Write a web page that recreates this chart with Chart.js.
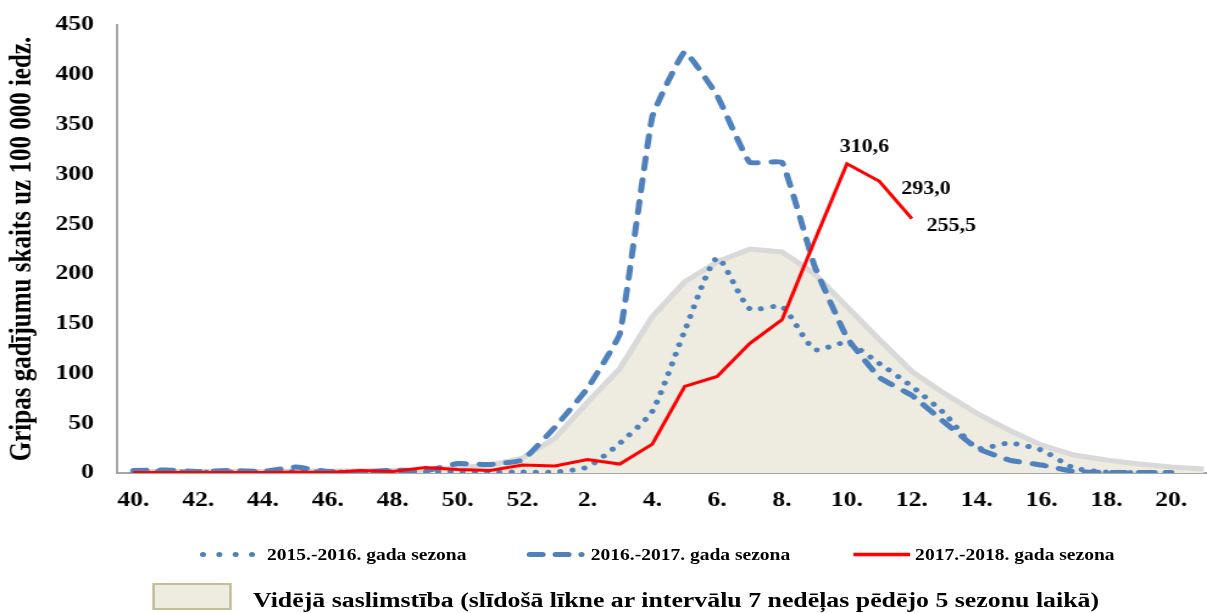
<!DOCTYPE html>
<html lang="lv">
<head>
<meta charset="UTF-8">
<title>Gripas saslimstība</title>
<script src="https://cdn.jsdelivr.net/npm/chart.js"></script>
<style>
  html, body { margin: 0; padding: 0; background: #fff; overflow: hidden; }
  /* the source picture is stretched sideways, so the whole chart is drawn narrow and stretched */
  #wrap { position: relative; width: 990px; height: 613px; transform: scaleX(1.2192); transform-origin: 0 0;
          font-family: 'Liberation Serif', 'Times New Roman', serif; font-weight: bold; color: #000; }
  #chart { display: block; width: 990px; height: 613px; }
  .leg { position: absolute; white-space: nowrap; line-height: 1; }
  .mk { position: absolute; overflow: visible; }
</style>
</head>
<body>
<div id="wrap">
  <canvas id="chart" width="990" height="613"></canvas>

  <!-- legend -->
  <svg class="mk" style="left:160px;top:546px" width="60" height="17">
    <line x1="6.5" y1="8.5" x2="47" y2="8.5" stroke="#4f81bd" stroke-width="5" stroke-linecap="round" stroke-dasharray="0 13.4"/>
  </svg>
  <span class="leg" style="left:219px;top:546.5px;font-size:16px">2015.-2016. gada sezona</span>

  <svg class="mk" style="left:425px;top:546px" width="60" height="17">
    <line x1="9.5" y1="8.5" x2="52" y2="8.5" stroke="#4f81bd" stroke-width="5" stroke-linecap="round" stroke-dasharray="10.6 10.6"/>
  </svg>
  <span class="leg" style="left:484.6px;top:546.5px;font-size:16px">2016.-2017. gada sezona</span>

  <svg class="mk" style="left:695px;top:546px" width="60" height="17">
    <line x1="5" y1="8.5" x2="51.5" y2="8.5" stroke="#ff0000" stroke-width="3.5"/>
  </svg>
  <span class="leg" style="left:750.6px;top:546.5px;font-size:16px">2017.-2018. gada sezona</span>

  <div style="position:absolute;left:124.7px;top:582.5px;width:61px;height:23px;background:#eeece1;border:2px solid #c4bd97;"></div>
  <span class="leg" style="left:207.5px;top:589.5px;font-size:21.2px">Vidējā saslimstība (slīdošā līkne ar intervālu 7 nedēļas pēdējo 5 sezonu laikā)</span>
</div>

<script>
// nedēļas (40. līdz 21.)
const weekLabels = ['40.', '41.', '42.', '43.', '44.', '45.', '46.', '47.', '48.', '49.', '50.', '51.', '52.',
    '1.', '2.', '3.', '4.', '5.', '6.', '7.', '8.', '9.', '10.', '11.', '12.', '13.', '14.', '15.', '16.',
    '17.', '18.', '19.', '20.', '21.'];

const season1516 = [1.5, 1.5, 1, 1, 1, 1.5, 1, 1, 1.5, 1.5, 1.5, 1, 1,
    1, 6, 30, 62, 143, 216, 165, 167, 124, 131, 110, 87, 60, 25, 30, 23, 5, 1, 0.5, 0.5, null];

const season1617 = [2.5, 3, 1.5, 2.5, 1.5, 6, 1.5, 0.5, 3, 2, 9.5, 8.5, 13,
    46, 85, 140, 358, 423, 379, 312, 312, 208, 136, 96, 78, 51, 25, 13, 8, 1.5, 0.5, 0.5, 0.5, null];

const season1718 = [0.5, 0.5, 0.5, 0.5, 0.5, 1, 0.5, 2.5, 1.5, 5.5, 3.5, 2.5, 8,
    7, 13.5, 9, 29, 87, 97, 130, 154, 233, 310.6, 293.0, 255.5];

const averageLevel = [1.5, 1.5, 1.5, 1.5, 1.5, 2, 2, 2, 2.5, 3, 5, 8, 15,
    35, 71, 105, 157, 192, 212, 225, 222, 200, 167, 134, 102, 80, 60, 43, 28, 18, 13, 9, 6, 4];

// which red points get a value label, and where the label sits relative to the point
const labelOffsets = { 22: [-6, -16.5], 23: [18, 8], 24: [12, 8] };

const FONT = "'Liberation Serif', 'Times New Roman', serif";
const BLUE = '#4f81bd';

const toPoints = arr => arr.map((v, i) => ({ x: i, y: v }));

const valueLabels = {
    id: 'valueLabels',
    afterDatasetsDraw(chart) {
        const ctx = chart.ctx;
        const meta = chart.getDatasetMeta(2);
        ctx.save();
        ctx.font = 'bold 18px ' + FONT;
        ctx.fillStyle = '#000';
        ctx.textAlign = 'left';
        ctx.textBaseline = 'middle';
        Object.keys(labelOffsets).forEach(k => {
            const i = Number(k);
            const pt = meta.data[i];
            const [dx, dy] = labelOffsets[k];
            ctx.fillText(season1718[i].toFixed(1).replace('.', ','), pt.x + dx, pt.y + dy);
        });
        ctx.restore();
    }
};

new Chart(document.getElementById('chart'), {
    type: 'line',
    data: {
        datasets: [
            {
                label: '2015.-2016. gada sezona',
                data: toPoints(season1516),
                borderColor: BLUE,
                borderWidth: 5,
                borderDash: [0.01, 10],
                borderCapStyle: 'round',
                tension: 0.2,
                pointRadius: 0,
                order: 3
            },
            {
                label: '2016.-2017. gada sezona',
                data: toPoints(season1617),
                borderColor: BLUE,
                borderWidth: 5,
                borderDash: [11, 11],
                borderCapStyle: 'round',
                tension: 0.1,
                pointRadius: 0,
                order: 2
            },
            {
                label: '2017.-2018. gada sezona',
                data: toPoints(season1718),
                borderColor: '#ff0000',
                borderWidth: 3,
                tension: 0,
                pointRadius: 0,
                order: 1
            },
            {
                label: 'Vidējā saslimstība (slīdošā līkne ar intervālu 7 nedēļas pēdējo 5 sezonu laikā)',
                data: toPoints(averageLevel),
                borderColor: '#d9d9d9',
                backgroundColor: '#eeece1',
                borderWidth: 5,
                fill: 'origin',
                tension: 0,
                pointRadius: 0,
                order: 4
            }
        ]
    },
    options: {
        responsive: false,
        animation: false,
        devicePixelRatio: 1,
        layout: { padding: { top: 25, right: 0, bottom: 0, left: 0 } },
        plugins: {
            legend: { display: false },
            tooltip: { enabled: false }
        },
        scales: {
            x: {
                type: 'linear',
                min: -0.5,
                max: 33.1,
                grid: { display: false },
                border: { color: '#a6a6a6', width: 2 },
                afterBuildTicks: s => {
                    s.ticks = s.ticks.filter(t => Number.isInteger(t.value) && t.value % 2 === 0 && t.value < weekLabels.length);
                },
                afterFit: s => { s.height = 140; },
                ticks: {
                    stepSize: 2,
                    includeBounds: false,
                    autoSkip: false,
                    maxRotation: 0,
                    padding: 7,
                    color: '#000',
                    font: { family: FONT, size: 21, weight: 'bold' },
                    callback: v => weekLabels[v]
                }
            },
            y: {
                min: 0,
                max: 450,
                grid: { display: false },
                border: { color: '#a6a6a6', width: 2 },
                afterFit: s => { s.width = 96; },
                ticks: {
                    stepSize: 50,
                    padding: 11,
                    color: '#000',
                    font: { family: FONT, size: 21, weight: 'bold' }
                },
                title: {
                    display: true,
                    text: 'Gripas gadījumu skaits uz 100 000 iedz.',
                    color: '#000',
                    font: { family: FONT, size: 25, weight: 'bold' },
                    padding: { top: 4, bottom: 0 }
                }
            }
        }
    },
    plugins: [valueLabels]
});
</script>
</body>
</html>
